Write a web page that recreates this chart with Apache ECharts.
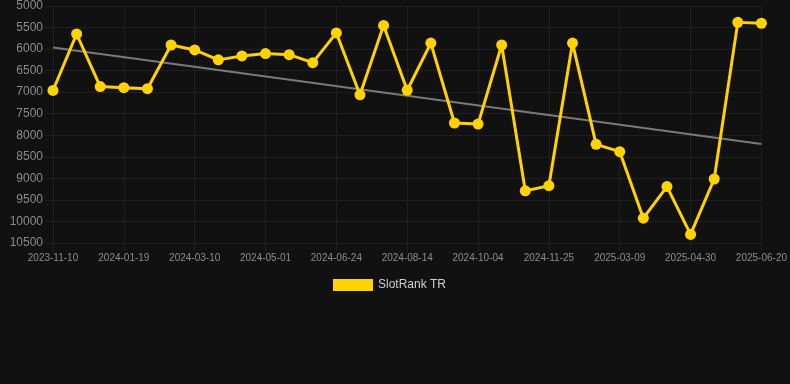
<!DOCTYPE html>
<html>
<head>
<meta charset="utf-8">
<script src="https://cdn.jsdelivr.net/npm/echarts@6/dist/echarts.min.js"></script>
<style>
  html, body { margin: 0; padding: 0; background: #111111; }
  #chart { width: 790px; height: 384px; }
</style>
</head>
<body>
<div id="chart"></div>
<script>
// categories (only every third one is labelled on the axis)
const dates = [
  '2023-11-10', '2023-12-03', '2023-12-26', '2024-01-19', '2024-02-05', '2024-02-22',
  '2024-03-10', '2024-03-27', '2024-04-14', '2024-05-01', '2024-05-19', '2024-06-06',
  '2024-06-24', '2024-07-11', '2024-07-28', '2024-08-14', '2024-08-31', '2024-09-17',
  '2024-10-04', '2024-10-21', '2024-11-07', '2024-11-25', '2024-12-30', '2025-02-03',
  '2025-03-09', '2025-03-26', '2025-04-13', '2025-04-30', '2025-05-17', '2025-06-03',
  '2025-06-20'
];
const rankTR = [
  6960, 5650, 6870, 6895, 6920, 5905, 6020, 6250, 6160, 6105, 6130,
  6315, 5625, 7060, 5450, 6955, 5860, 7715, 7740, 5905, 9290, 9170,
  5860, 8210, 8380, 9925, 9190, 10300, 9015, 5380, 5400
];
// trend line end points
const trendStart = 5965;
const trendEnd = 8200;

const gridColor = '#1f1f1f';
const labelColor = '#8c8c8c';

const chart = echarts.init(document.getElementById('chart'));
chart.setOption({
  backgroundColor: '#111111',
  animation: false,
  grid: { left: 53, right: 28, top: 6, bottom: 141, containLabel: false },
  legend: {
    data: ['SlotRank TR'],
    top: 274,
    left: 328,
    icon: 'rect',
    itemWidth: 40,
    itemHeight: 12,
    itemGap: 10,
    textStyle: { color: '#d0d0d0', fontSize: 12, fontFamily: 'Arial, Liberation Sans' }
  },
  xAxis: {
    type: 'category',
    data: dates,
    boundaryGap: false,
    axisLine: { show: true, lineStyle: { color: gridColor } },
    axisTick: { show: true, interval: 2, length: 8, lineStyle: { color: gridColor } },
    axisLabel: { interval: 2, color: labelColor, fontSize: 10, margin: 10, fontFamily: 'Arial, Liberation Sans' },
    splitLine: { show: true, interval: 2, lineStyle: { color: gridColor, width: 1 } }
  },
  yAxis: {
    type: 'value',
    inverse: true,
    min: 5000,
    max: 10500,
    interval: 500,
    axisLine: { show: false },
    axisTick: { show: true, length: 8, lineStyle: { color: gridColor } },
    axisLabel: {
      color: labelColor, fontSize: 12, margin: 10, fontFamily: 'Arial, Liberation Sans',
      formatter: (v) => String(v)
    },
    splitLine: { show: true, lineStyle: { color: gridColor, width: 1 } }
  },
  series: [
    {
      name: 'Trend',
      type: 'line',
      data: [[dates[0], trendStart], [dates[dates.length - 1], trendEnd]],
      symbol: 'none',
      silent: true,
      lineStyle: { color: '#7a7a7a', width: 2 },
      z: 1
    },
    {
      name: 'SlotRank TR',
      type: 'line',
      data: rankTR,
      symbol: 'circle',
      symbolSize: 11,
      lineStyle: { color: '#ffd200', width: 3 },
      itemStyle: { color: '#ffd200' },
      z: 2
    }
  ]
});
</script>
</body>
</html>
